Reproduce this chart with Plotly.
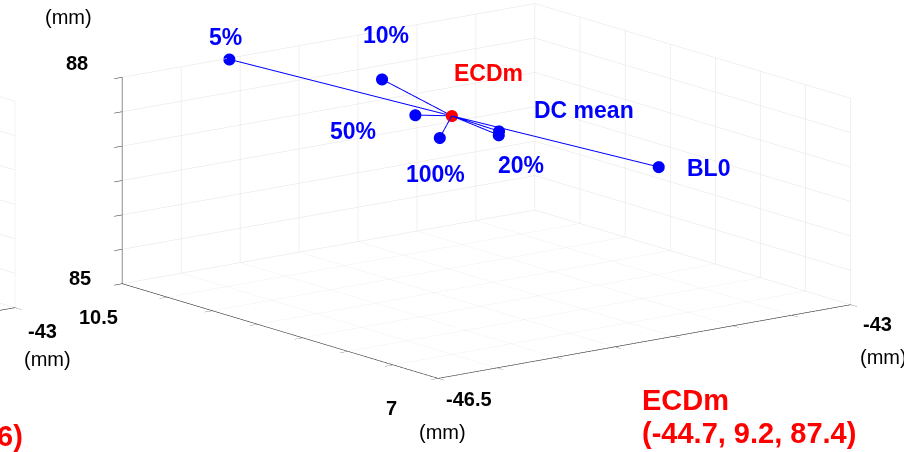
import plotly.graph_objects as go

# Dipole locations (mm): ECDm centre and the fitted positions around it
labels = ["5%", "10%", "20%", "50%", "100%", "DC mean", "BL0"]
xs = [-45.60, -44.91, -44.67, -44.88, -44.91, -44.66, -44.14]
ys = [10.49, 9.70, 8.72, 9.37, 9.06, 8.73, 7.64]
zs = [87.99, 87.80, 87.30, 87.40, 87.20, 87.35, 87.10]
ecdm = [-44.7, 9.2, 87.4]

x_range = [-46.5, -43.0]
y_range = [7.0, 10.5]
z_range = [85.0, 88.0]
step = 0.5

# label offsets (px) relative to each marker
label_shift = {
    "5%": (-4, 22), "10%": (4, 44), "20%": (22, -30), "50%": (-62, -16),
    "100%": (-4, -36), "DC mean": (85, 21), "BL0": (50, -1),
}

BLUE = "#0000FF"
RED = "#FF0000"
AXC = "#262626"
GRID = "#e3e3e3"
FONT = "Liberation Sans, Arial, sans-serif"


def ticks(r):
    n = int(round((r[1] - r[0]) / step))
    return [round(r[0] + i * step, 3) for i in range(n + 1)]


def axis(r):
    return dict(
        range=r, tickvals=ticks(r), showticklabels=False,
        ticks="outside", ticklen=10, tickcolor=AXC, tickwidth=1,
        showline=True, linecolor=AXC, linewidth=1.2,
        gridcolor=GRID, gridwidth=1, showbackground=False,
        zeroline=False, showspikes=False, title=dict(text=""),
    )


def fmt(v):
    return f"{v:g}"


def axlab(x, y, z, text, dx, dy, bold=True):
    return dict(x=x, y=y, z=z, text=f"<b>{text}</b>" if bold else text, showarrow=False,
                xshift=dx, yshift=dy, font=dict(size=20, color="black", family=FONT))


# star of segments from ECDm to each location
lx, ly, lz = [], [], []
for x, y, z in zip(xs, ys, zs):
    lx += [ecdm[0], x, None]
    ly += [ecdm[1], y, None]
    lz += [ecdm[2], z, None]

fig = go.Figure()
fig.add_trace(go.Scatter3d(x=lx, y=ly, z=lz, mode="lines",
                           line=dict(color=BLUE, width=2), hoverinfo="skip",
                           connectgaps=False, scene="scene"))
fig.add_trace(go.Scatter3d(x=xs, y=ys, z=zs, mode="markers",
                           marker=dict(color=BLUE, size=7, line=dict(width=0)),
                           text=labels, scene="scene"))
fig.add_trace(go.Scatter3d(x=[ecdm[0]], y=[ecdm[1]], z=[ecdm[2]], mode="markers",
                           marker=dict(color=RED, size=7, line=dict(width=0)),
                           text=["ECDm"], scene="scene"))

x0, x1 = x_range
y0, y1 = y_range
z0, z1 = z_range

# neighbouring panel on the left: only its right-hand corner is in view
fig.add_trace(go.Scatter3d(x=[x1], y=[y0], z=[z0], mode="markers",
                           marker=dict(size=1, opacity=0), hoverinfo="skip",
                           scene="scene2"))

ann3d = []
for lab, x, y, z in zip(labels, xs, ys, zs):
    dx, dy = label_shift[lab]
    ann3d.append(dict(x=x, y=y, z=z, text=f"<b>{lab}</b>", showarrow=False,
                      xshift=dx, yshift=dy, font=dict(size=23, color=BLUE, family=FONT)))
ann3d.append(dict(x=ecdm[0], y=ecdm[1], z=ecdm[2], text="<b>ECDm</b>", showarrow=False,
                  xshift=37, yshift=43, font=dict(size=23, color=RED, family=FONT)))

ann3d += [
    axlab(x0, y1, z1, fmt(z1), -45, 14),
    axlab(x0, y1, z0, fmt(z0), -42, 6),
    axlab(x0, y1, z1, "(mm)", -54, 60, bold=False),
    axlab(x0, y1, z0, fmt(y1), -24, -33),
    axlab(x0, y0, z0, fmt(y0), -47, -30),
    axlab(x0, y0, z0, fmt(x0), 31, -21),
    axlab(x0, y0, z0, "(mm)", 4, -54, bold=False),
    axlab(x1, y0, z0, fmt(x1), 26, -19),
    axlab(x1, y0, z0, "(mm)", 32, -52, bold=False),
]

ann3d_left = [
    axlab(x1, y0, z0, fmt(x1), 27, -23),
    axlab(x1, y0, z0, "(mm)", 32, -51, bold=False),
]

# viewing direction (azimuth/elevation of the box)
view_dir = (-0.5944, -0.7702, 0.2314)
dist = 6.0
zoom = 2.729
aspect = dict(x=1.0 * zoom, y=0.992 * zoom, z=0.407 * zoom)


def cam(c):
    return dict(
        eye=dict(x=c[0] + view_dir[0] * dist, y=c[1] + view_dir[1] * dist,
                 z=c[2] + view_dir[2] * dist),
        center=dict(x=c[0], y=c[1], z=c[2]), up=dict(x=0, y=0, z=1),
        projection=dict(type="orthographic"),
    )


def scene(domain, c, anns):
    return dict(
        domain=domain,
        xaxis=axis(x_range), yaxis=axis(y_range), zaxis=axis(z_range),
        aspectmode="manual", aspectratio=aspect,
        camera=cam(c), annotations=anns, bgcolor="white",
    )


ydom = [1 - 382 / 452, 1.0]

fig.update_layout(
    width=904, height=452, margin=dict(l=0, r=0, t=0, b=0),
    paper_bgcolor="white", showlegend=False,
    font=dict(family=FONT),
    scene=scene(dict(x=[0.0772, 0.9992], y=ydom), (0, 0, 0), ann3d),
    scene2=scene(dict(x=[0.0, 0.04], y=ydom), (1.524, -1.172, 0.015), ann3d_left),
    annotations=[
        dict(xref="paper", yref="paper", x=640 / 904, y=1 - 400 / 452, xanchor="left",
             yanchor="middle", showarrow=False, text="<b>ECDm</b>",
             font=dict(size=29, color=RED, family=FONT)),
        dict(xref="paper", yref="paper", x=640 / 904, y=1 - 433 / 452, xanchor="left",
             yanchor="middle", showarrow=False,
             text="<b>(%s, %s, %s)</b>" % tuple(fmt(v) for v in ecdm),
             font=dict(size=29, color=RED, family=FONT)),
        dict(xref="paper", yref="paper", x=25 / 904, y=1 - 436 / 452, xanchor="right",
             yanchor="middle", showarrow=False, text="<b>6)</b>",
             font=dict(size=29, color=RED, family=FONT)),
    ],
)

fig.write_html("out.html")
